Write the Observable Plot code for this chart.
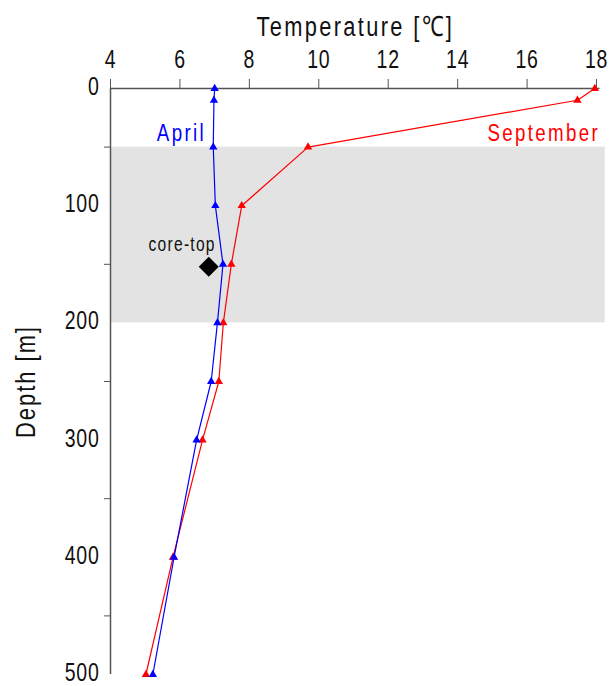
<!DOCTYPE html>
<html><head><meta charset="utf-8">
<script src="https://cdn.jsdelivr.net/npm/d3@7"></script>
<script src="https://cdn.jsdelivr.net/npm/@observablehq/plot@0.6"></script>
<style>
html,body{margin:0;padding:0;background:#fff;}
</style>
</head><body><div id="chart"></div>
<script>
// ---- data ----
const depths = [0, 10, 50, 100, 150, 200, 250, 300, 400, 500];          // m
const aprilTemp = [7.00, 6.98, 6.96, 7.02, 7.24, 7.08, 6.90, 6.48, 5.83, 5.22];   // °C
const septemberTemp = [17.95, 17.45, 9.69, 7.78, 7.48, 7.25, 7.12, 6.65, 5.80, 5.02]; // °C
const coreTopTemp = [6.83];
const coreTopDepth = [152];
const coreTopLabel = ["core-top"];
const shadeDepthRange = [50, 200];
const tempTicks = [4, 6, 8, 10, 12, 14, 16, 18];
const depthTicks = [0, 100, 200, 300, 400, 500];
const depthMinorTicks = [50, 150, 250, 350, 450];
const seriesNames = ["April", "September"];
const seriesColors = ["#0000ff", "#ff0000"];
const seriesLabelTemp = [6.75, 18.1];
const seriesLabelDepth = [38, 38];

// ---- tables built from the arrays ----
const april = depths.map((d, i) => ({depth: d, temp: aprilTemp[i]}));
const september = depths.map((d, i) => ({depth: d, temp: septemberTemp[i]}));
const coreTop = coreTopTemp.map((t, i) => ({temp: t, depth: coreTopDepth[i], label: coreTopLabel[i]}));
const seriesLabels = seriesNames.map((n, i) => ({name: n, color: seriesColors[i], temp: seriesLabelTemp[i], depth: seriesLabelDepth[i]}));
const shade = [{d1: shadeDepthRange[0], d2: shadeDepthRange[1]}];

const font = '"Liberation Sans", Arial, sans-serif';

const chart = Plot.plot({
  width: 614,
  height: 686,
  marginTop: 88,
  marginBottom: 12,
  marginLeft: 110,
  marginRight: 14.5,
  style: {fontFamily: font, background: "#fff", color: "#111"},
  x: {domain: [4, 18.1]},
  y: {domain: [0, 500], reverse: true},
  marks: [
    Plot.rect(shade, {x1: () => 4, x2: () => 18.25, y1: "d1", y2: "d2", fill: "#e3e3e3"}),
    Plot.axisX(tempTicks, {anchor: "top", tickSize: 10, tickPadding: 11, fontSize: 25, stroke: "#555",
      label: "Temperature [℃]", labelAnchor: "center", labelOffset: 72, labelArrow: "none"}),
    Plot.axisY(depthTicks, {anchor: "left", tickSize: 0, tickPadding: 11, fontSize: 25, dy: -1.5,
      label: "Depth [m]", labelAnchor: "center", labelOffset: 95, labelArrow: "none"}),
    Plot.axisY(depthMinorTicks, {anchor: "left", tickSize: 6, stroke: "#555", tickFormat: () => "", label: null}),
    Plot.ruleY([0], {stroke: "#555", strokeWidth: 1.5}),
    Plot.ruleX([4], {stroke: "#555", strokeWidth: 1.5}),
    Plot.line(september, {x: "temp", y: "depth", stroke: seriesColors[1], strokeWidth: 1.2}),
    Plot.line(april, {x: "temp", y: "depth", stroke: seriesColors[0], strokeWidth: 1.2}),
    Plot.dot(september, {x: "temp", y: "depth", symbol: "triangle", r: 3.1, fill: seriesColors[1]}),
    Plot.dot(april, {x: "temp", y: "depth", symbol: "triangle", r: 3.1, fill: seriesColors[0]}),
    Plot.dot(coreTop, {x: "temp", y: "depth", symbol: "diamond2", r: 9, fill: "#000"}),
    Plot.text(coreTop, {x: "temp", y: "depth", text: "label", textAnchor: "end", dx: 7, dy: -22, fontSize: 20, fill: "#111"}),
    Plot.text(seriesLabels, {x: "temp", y: "depth", text: "name", fill: "color", textAnchor: "end", fontSize: 24})
  ]
});
document.getElementById("chart").appendChild(chart);

// narrow (Helvetica-Narrow-like) lettering: horizontal squeeze plus tracking
const squeeze = 0.78;
const tracking = {
  "x-axis tick label": 1, "y-axis tick label": 1,
  "x-axis label": 3, "y-axis label": 2.6
};
const labelSize = {"x-axis label": 28, "y-axis label": 28};
chart.querySelectorAll("g[aria-label]").forEach(g => {
  const k = g.getAttribute("aria-label");
  if (!g.querySelector("text")) return;
  let ls = tracking[k];
  if (ls == null) ls = 3;
  if (labelSize[k]) g.setAttribute("font-size", labelSize[k]);
  g.querySelectorAll("text").forEach(t => {
    t.style.letterSpacing = (coreTopLabel.includes(t.textContent) ? 1.6 : ls) + "px";
  });
});
chart.querySelectorAll("text").forEach(t => {
  const tr = t.getAttribute("transform");
  if (tr) t.setAttribute("transform", tr + ` scale(${squeeze},1)`);
  else {
    const x = +(t.getAttribute("x") || 0);
    t.removeAttribute("x");
    t.setAttribute("transform", `translate(${x},0) scale(${squeeze},1)`);
  }
});
</script>
</body></html>
